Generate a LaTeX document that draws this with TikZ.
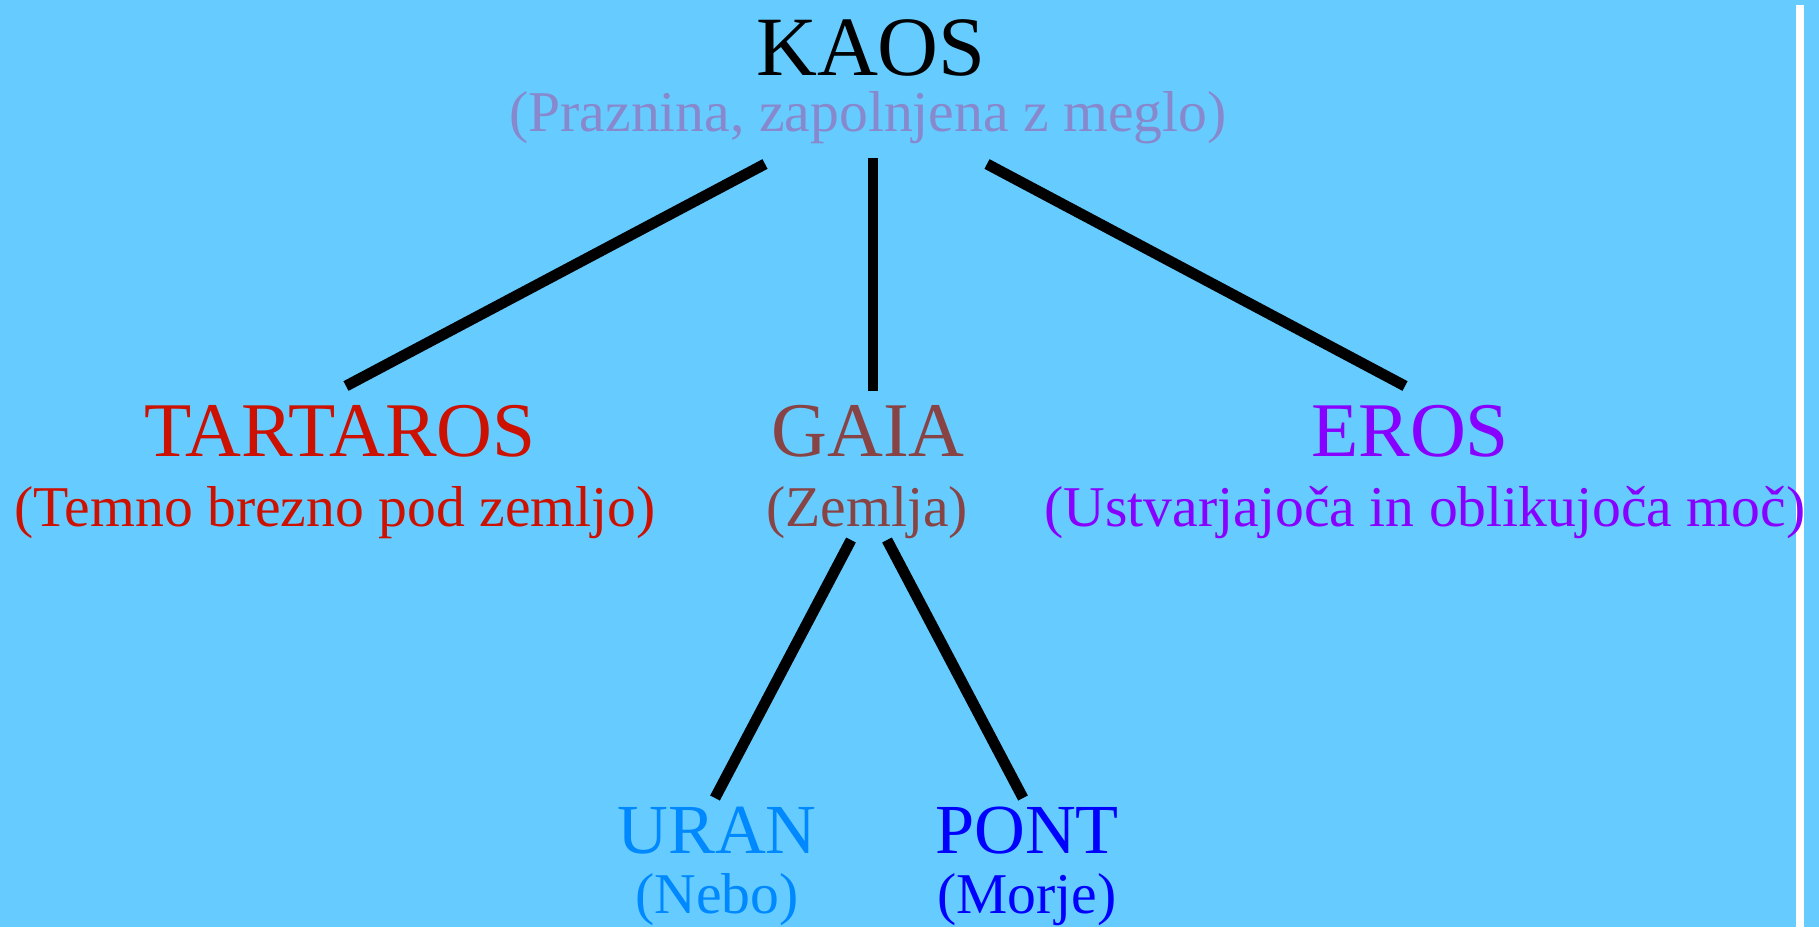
\documentclass[tikz,border=0pt]{standalone}
\usepackage{fontspec}
\setmainfont{Liberation Serif}
\usepackage{xcolor}
\definecolor{nebo}{HTML}{66CCFF}
\definecolor{megla}{HTML}{8888CC}
\definecolor{tartrdeca}{HTML}{CC1100}
\definecolor{gaiarjava}{HTML}{884444}
\definecolor{erosvijola}{HTML}{8800FF}
\definecolor{uranmodra}{HTML}{0088FF}
\definecolor{pontmodra}{HTML}{0000FF}

\begin{document}
\begin{tikzpicture}[x=0.01cm, y=-0.01cm,
        ime/.style={anchor=base, inner sep=0pt, font=\fontsize{22}{22}\selectfont},
        malo/.style={anchor=base, inner sep=0pt, font=\fontsize{20}{20}\selectfont},
        opis/.style={anchor=base, inner sep=0pt, font=\fontsize{16.4}{16.4}\selectfont},
        veja/.style={line width=3.1pt}]
                \fill[nebo] (0,0) rectangle (1819,927);
                \fill[white] (1796,5) rectangle (1804,927);
                \useasboundingbox (0,0) rectangle (1819,927);
                % bogovi
                \node[ime, font=\fontsize{24}{24}\selectfont] (kaos) at (871,75) {KAOS};
                \node[opis, text=megla] (praznina) at (868,131) {(Praznina, zapolnjena z meglo)};
                \node[ime, text=tartrdeca] (tartaros) at (340,456) {TARTAROS};
                \node[opis, text=tartrdeca] (brezno) at (335,526) {(Temno brezno pod zemljo)};
                \node[ime, text=gaiarjava] (gaia) at (868,456) {GAIA};
                \node[opis, text=gaiarjava] (zemlja) at (867,526) {(Zemlja)};
                \node[ime, text=erosvijola] (eros) at (1410,456) {EROS};
                \node[opis, text=erosvijola] (moc) at (1425,526) {(Ustvarjajoča in oblikujoča moč)};
                \node[malo, text=uranmodra] (uran) at (717,853) {URAN};
                \node[opis, text=uranmodra] (zrak) at (717,913) {(Nebo)};
                \node[malo, text=pontmodra] (pont) at (1027,853) {PONT};
                \node[opis, text=pontmodra] (morje) at (1027,913) {(Morje)};
                % konci vej
                \coordinate (kaosL) at (765,164);
                \coordinate (kaosS) at (873,158);
                \coordinate (kaosD) at (987,164);
                \coordinate (tartarosV) at (346,386);
                \coordinate (gaiaV) at (873,391);
                \coordinate (erosV) at (1405,386);
                \coordinate (gaiaL) at (851,540);
                \coordinate (gaiaD) at (887,540);
                \coordinate (uranV) at (715,798);
                \coordinate (pontV) at (1023,798);
                \draw[veja] (kaosL) -- (tartarosV);
                \draw[veja] (kaosS) -- (gaiaV);
                \draw[veja] (kaosD) -- (erosV);
                \draw[veja] (gaiaL) -- (uranV);
                \draw[veja] (gaiaD) -- (pontV);
            \end{tikzpicture}
\end{document}
